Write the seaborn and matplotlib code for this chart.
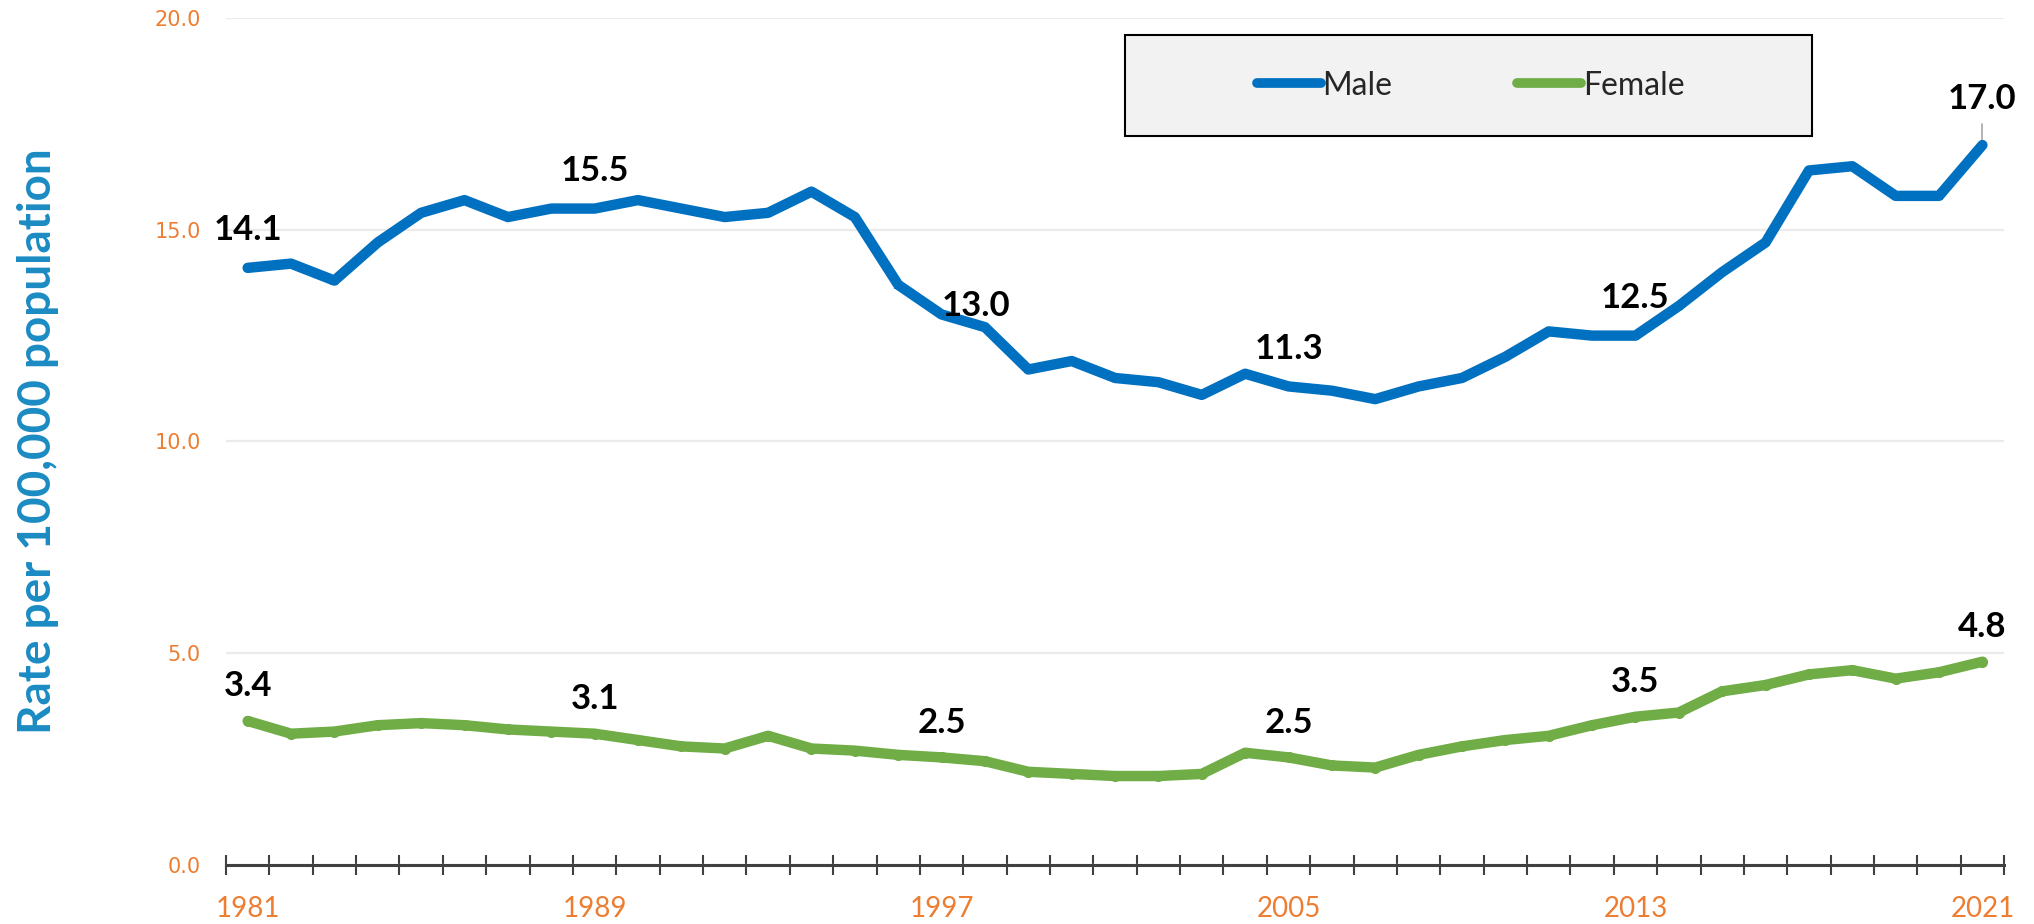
import matplotlib
matplotlib.use("Agg")
import matplotlib.pyplot as plt
import seaborn as sns
import pandas as pd
from matplotlib.patches import Rectangle
from matplotlib.lines import Line2D

# data
years = list(range(1981, 2022))
male = [14.1, 14.2, 13.8, 14.7, 15.4, 15.7, 15.3, 15.5, 15.5, 15.7,
        15.5, 15.3, 15.4, 15.9, 15.3, 13.7, 13.0, 12.7, 11.7, 11.9,
        11.5, 11.4, 11.1, 11.6, 11.3, 11.2, 11.0, 11.3, 11.5, 12.0,
        12.6, 12.5, 12.5, 13.2, 14.0, 14.7, 16.4, 16.5, 15.8, 15.8, 17.0]
female = [3.4, 3.1, 3.15, 3.3, 3.35, 3.3, 3.2, 3.15, 3.1, 2.95,
          2.8, 2.75, 3.05, 2.75, 2.7, 2.6, 2.54, 2.45, 2.2, 2.15,
          2.1, 2.1, 2.15, 2.65, 2.54, 2.35, 2.3, 2.6, 2.8, 2.95,
          3.05, 3.3, 3.5, 3.6, 4.1, 4.25, 4.5, 4.6, 4.4, 4.55, 4.8]
labelled = [0, 8, 16, 24, 32, 40]
y_ticks = [0, 5, 10, 15, 20]

MALE_C = "#0070C0"
FEMALE_C = "#70AD47"
ORANGE = "#ED7D31"

sns.set_theme(style="white")
plt.rcParams["font.family"] = ["Lato", "DejaVu Sans"]

df = pd.DataFrame({"idx": range(len(years)), "year": years,
                   "Male": male, "Female": female})

fig = plt.figure(figsize=(20.34, 9.24), dpi=100)
ax = fig.add_axes([0.1111, 0.0639, 0.8742, 0.9166])

sns.lineplot(data=df, x="idx", y="Male", ax=ax, color=MALE_C, lw=7.5,
             marker="^", markersize=6, markeredgewidth=0, zorder=3)
sns.lineplot(data=df, x="idx", y="Female", ax=ax, color=FEMALE_C, lw=7.5,
             marker="o", markersize=8, markeredgewidth=0, zorder=3)

# data labels
for i in labelled:
    off = (0, 27)
    if i == 16:
        off = (25, 6)
    elif i == 40:
        off = (0, 33)
    ax.annotate(f"{male[i]:.1f}", (i, male[i]), xytext=off, textcoords="offset points",
                ha="center", va="center", fontsize=25, fontweight="bold", color="black")
    ax.annotate(f"{female[i]:.1f}", (i, female[i]), xytext=(0, 25), textcoords="offset points",
                ha="center", va="center", fontsize=25, fontweight="bold", color="black")
# leader line on last male label
ax.plot([40, 40], [male[-1] + 0.1, male[-1] + 0.5], color="#A6A6A6", lw=1.2, zorder=2)

ax.set_xlim(-0.5, len(years) - 0.5)
ax.set_ylim(0, 20)
ax.set_yticks(y_ticks)
ax.set_yticklabels([f"{v:.1f}" for v in y_ticks], fontsize=15, color=ORANGE,
                   family=["DejaVu Sans"])
ax.tick_params(axis="y", length=0, pad=18)
ax.grid(axis="y", color="#EBEBEB", lw=1.6)
ax.grid(axis="x", visible=False)

ax.set_xticks(labelled)
ax.set_xticklabels([str(years[i]) for i in labelled], fontsize=20, color=ORANGE)
ax.set_xticks([k - 0.5 for k in range(len(years) + 1)], minor=True)
ax.tick_params(axis="x", which="major", bottom=True, length=0, pad=22)
ax.tick_params(axis="x", which="minor", bottom=True, direction="inout", length=14,
               width=1.5, color="#404040")

for s in ["top", "right", "left"]:
    ax.spines[s].set_visible(False)
ax.spines["bottom"].set_color("#404040")
ax.spines["bottom"].set_linewidth(2.2)

ax.set_xlabel("")
ax.set_ylabel("Rate per 100,000 population", fontsize=33, fontweight="bold", color="#1B8BC3")
ax.yaxis.set_label_coords(-0.094, 0.5)

# legend box
ax.add_patch(Rectangle((0.5056, 0.8607), 0.3864, 0.1192, transform=ax.transAxes,
                       facecolor="#F2F2F2", edgecolor="black", lw=1.5, zorder=4))
handles = [Line2D([], [], color=MALE_C, lw=7, solid_capstyle="round"),
           Line2D([], [], color=FEMALE_C, lw=7, solid_capstyle="round")]
leg = ax.legend(handles, ["Male", "Female"], loc="center", bbox_to_anchor=(0.70, 0.9203),
                ncol=2, frameon=False, fontsize=23, handlelength=2.0, handletextpad=0.05,
                columnspacing=3.9)
leg.set_zorder(5)

fig.savefig("out.png", dpi=100)
